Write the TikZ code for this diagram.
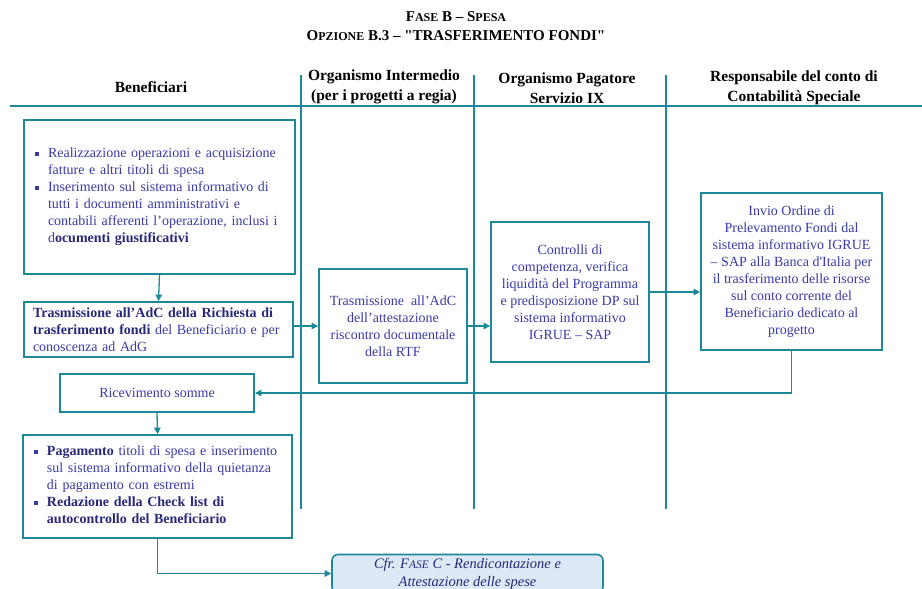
\documentclass[tikz,border=0pt]{standalone}
\usepackage{fontspec}
\setmainfont{Liberation Serif}
% same family without TeX ligatures, for straight quotation marks
\newfontfamily\rawserif{Liberation Serif}
\usetikzlibrary{arrows.meta}

\definecolor{lane}{RGB}{28,136,152}
\definecolor{ink}{RGB}{58,58,168}
\definecolor{inkb}{RGB}{40,40,122}
\definecolor{notefill}{RGB}{221,232,245}

% small square bullet and bold dark text
\newcommand{\sqbul}{\raisebox{0.28ex}{\rule{0.3em}{0.3em}}}
\newcommand{\hb}[1]{{\bfseries\color{inkb}#1}}
\newcommand{\smc}[1]{{\fontsize{12}{14}\selectfont #1}}
\newcommand{\dq}{{\rawserif\bfseries"}}

\tikzset{
  procbox/.style={draw=lane, line width=1.8pt, fill=white, inner ysep=0pt,
    text=ink, font=\fontsize{14}{17}\selectfont},
  lefttext/.style={align=left},
  centertext/.style={align=center},
  hdr/.style={font=\fontsize{15.5}{19.5}\selectfont\bfseries, align=center, inner sep=0pt},
  ttl/.style={font=\fontsize{15}{18}\selectfont\bfseries, inner sep=0pt, anchor=base},
  conn/.style={draw=lane, line width=1.3pt, -{Triangle[length=6.5pt,width=6.5pt]}},
  lanerule/.style={draw=lane, line width=2.8pt},
  notebox/.style={draw=lane, line width=1.6pt, fill=notefill, rounded corners=6pt,
    inner sep=0pt, text=inkb, align=center,
    font=\fontsize{14.5}{18}\selectfont\itshape}
}

\begin{document}
\begin{tikzpicture}[x=1pt, y=-1pt]
\useasboundingbox (0,0) rectangle (922,589);

% title
\node[ttl] (title1) at (456,21) {F\smc{ASE} B – S\smc{PESA}};
\node[ttl] (title2) at (456,40) {O\smc{PZIONE} B.3 – \dq TRASFERIMENTO FONDI\dq};

% swimlane headers
\node[hdr] (h1) at (151,87) {Beneficiari};
\node[hdr] (h2) at (384,87) {Organismo Intermedio\\(per i progetti a regia)};
\node[hdr] (h3) at (567,88) {Organismo Pagatore\\Servizio IX};
\node[hdr] (h4) at (794,88) {Responsabile del conto di\\Contabilità Speciale};

% swimlane rules
\coordinate (ruleL) at (10,106);
\coordinate (ruleR) at (922,106);
\draw[lanerule] (ruleL) -- (ruleR);
\foreach \lx in {301,474,666}
  \draw[lanerule] (\lx,75) -- (\lx,509);

% Beneficiari lane
\node[procbox, lefttext, minimum width=271pt, minimum height=154pt,
      text width=249pt, inner xsep=11pt] (b1) at (159.5,197)
{\begin{tabular}{@{}p{13pt}@{}l@{}}
 \sqbul & Realizzazione operazioni e acquisizione\\
        & fatture e altri titoli di spesa\\
 \sqbul & Inserimento sul sistema informativo di\\
        & tutti i documenti amministrativi e\\
        & contabili afferenti l’operazione, inclusi i\\
        & d\hb{ocumenti giustificativi}
 \end{tabular}};

\node[procbox, lefttext, minimum width=269pt, minimum height=55pt,
      text width=251pt, inner xsep=9pt] (b2) at (158.5,329.5)
{\hb{Trasmissione all’AdC della Richiesta di}\\
 \hb{trasferimento fondi} del Beneficiario  e per\\
 conoscenza ad AdG};

\node[procbox, centertext, minimum width=194pt, minimum height=38pt] (ric) at (157,393)
{Ricevimento somme};

\node[procbox, lefttext, minimum width=269pt, minimum height=103pt,
      text width=247pt, inner xsep=11pt] (pag) at (157.5,486.5)
{\begin{tabular}{@{}p{13pt}@{}l@{}}
 \sqbul & \hb{Pagamento} titoli di spesa e inserimento\\
        & sul sistema informativo della quietanza\\
        & di pagamento con estremi\\
 \sqbul & \hb{Redazione della Check list di}\\
        & \hb{autocontrollo del Beneficiario}
 \end{tabular}};

% Organismo Intermedio lane
\node[procbox, centertext, minimum width=148pt, minimum height=114pt] (oi) at (393,326)
{Trasmissione \ all’AdC\\dell’attestazione\\riscontro documentale\\della RTF};

% Organismo Pagatore lane
\node[procbox, centertext, minimum width=158pt, minimum height=140pt] (op) at (570,292)
{Controlli di\\competenza, verifica\\liquidità del Programma\\e predisposizione DP sul\\sistema informativo\\IGRUE – SAP};

% Responsabile lane
\node[procbox, centertext, minimum width=181pt, minimum height=157pt] (rs) at (791.5,271.5)
{Invio Ordine di\\Prelevamento Fondi dal\\sistema informativo IGRUE\\– SAP alla Banca d\textquotesingle Italia per\\il trasferimento delle risorse\\sul conto corrente del\\Beneficiario dedicato al\\progetto};

% reference to phase C
\node[notebox, minimum width=271pt, minimum height=38pt] (cfr) at (467.5,573.5)
{Cfr. F{\fontsize{11.5}{14}\selectfont ASE} C - Rendicontazione e\\Attestazione delle spese};

% flow
\draw[conn] (b1.south) -- (b2.north);
\draw[conn] (oi.west -| b2.east) -- (oi.west);
\draw[conn] (oi.east) -- (oi.east -| op.west);
\draw[conn] (op.east) -- (op.east -| rs.west);
\draw[conn] (rs.south) |- (ric.east);
\draw[conn] (ric.south) -- (pag.north);
\draw[conn] (pag.south) |- (cfr.west);
\end{tikzpicture}
\end{document}
